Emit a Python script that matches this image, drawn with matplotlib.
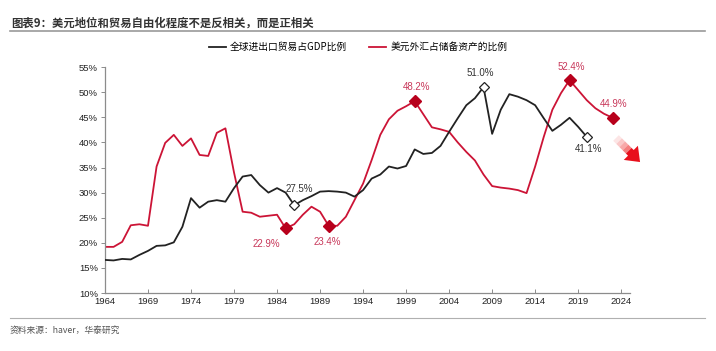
import matplotlib
matplotlib.use("Agg")
import matplotlib.pyplot as plt
from matplotlib.lines import Line2D
from matplotlib.patches import FancyArrow
import numpy as np

plt.rcParams['font.family'] = ['Liberation Sans', 'Noto Sans CJK SC', 'DejaVu Sans']

years = list(range(1964, 2024))

trade_gdp = [16.6, 16.5, 16.8, 16.7, 17.6, 18.4, 19.4, 19.5, 20.1, 23.2, 28.9, 27.0, 28.2, 28.5, 28.2,
             30.9, 33.2, 33.5, 31.5, 30.0, 30.9, 30.0, 27.5, 28.5, 29.3, 30.2, 30.3, 30.2, 30.0, 29.2,
             30.5, 32.8, 33.6, 35.2, 34.8, 35.3, 38.6, 37.7, 37.9, 39.3, 42.1, 44.8, 47.4, 48.8, 51.0,
             41.7, 46.5, 49.6, 49.1, 48.4, 47.4, 44.8, 42.3, 43.5, 44.9, 43.1, 41.1]
usd_reserve = [19.2, 19.2, 20.2, 23.5, 23.7, 23.4, 35.2, 39.9, 41.5, 39.3, 40.8, 37.5, 37.3, 41.9, 42.8,
               34.0, 26.2, 26.0, 25.2, 25.4, 25.6, 22.9, 23.7, 25.6, 27.2, 26.2, 23.4, 23.4, 25.2, 28.5,
               31.8, 36.5, 41.5, 44.6, 46.3, 47.2, 48.2, 45.6, 43.0, 42.6, 42.1, 40.0, 38.1, 36.4, 33.6,
               31.3, 31.0, 30.8, 30.5, 29.9, 35.2, 41.1, 46.5, 49.8, 52.4, 50.4, 48.4, 46.8, 45.7, 44.9]
trade_years = years[:len(trade_gdp)]
reserve_years = years[:len(usd_reserve)]

series_names = ['全球进出口贸易占GDP比例', '美元外汇占储备资产的比例']
title = '图表9：美元地位和贸易自由化程度不是反相关，而是正相关'
source = '资料来源：haver，华泰研究'

xticks = list(range(1964, 2025, 5))
yticks = list(range(10, 56, 5))

# highlighted points: (year, value, label offset in points)
trade_marks = [(1986, 27.5, (4, 12)), (2008, 51.0, (-2, 10)), (2020, 41.1, (1, -9))]
reserve_marks = [(1985, 22.9, (-14, -11)), (1990, 23.4, (-1, -12)), (2000, 48.2, (1, 10)),
                 (2018, 52.4, (1, 9.5)), (2023, 44.9, (1, 10))]

BLACK = '#222222'
RED = '#cc1436'
MRED = '#b8001c'
LRED = '#c8385a'

fig = plt.figure(figsize=(7.16, 3.51), dpi=100)
fig.patch.set_facecolor('white')
ax = fig.add_axes([0.1466, 0.165, 0.733, 0.644])

ax.plot(trade_years, trade_gdp, color=BLACK, lw=1.3, zorder=3)
ax.plot(reserve_years, usd_reserve, color=RED, lw=1.3, zorder=2)

for yr, v, off in trade_marks:
    ax.plot([yr], [v], marker='D', ms=5.5, mfc='white', mec=BLACK, mew=0.9, zorder=5)
    ax.annotate(f'{v:.1f}%', (yr, v), xytext=off, textcoords='offset points',
                ha='center', va='center', fontsize=7, color='#333333', zorder=6)
for yr, v, off in reserve_marks:
    ax.plot([yr], [v], marker='D', ms=6, mfc=MRED, mec=MRED, zorder=5)
    ax.annotate(f'{v:.1f}%', (yr, v), xytext=off, textcoords='offset points',
                ha='center', va='center', fontsize=7, color=LRED, zorder=6)

ax.set_xlim(1964, 2025)
ax.set_ylim(10, 55)
ax.set_xticks(xticks)
ax.set_xticklabels([str(x) for x in xticks], fontsize=6.8, color='#222222')
ax.set_yticks(yticks)
ax.set_yticklabels([f'{y}%' for y in yticks], fontsize=6.8, color='#222222')
for s in ['top', 'right']:
    ax.spines[s].set_visible(False)
for s in ['left', 'bottom']:
    ax.spines[s].set_color('#8c8c8c')
    ax.spines[s].set_linewidth(0.9)
ax.tick_params(axis='y', direction='out', length=3, width=0.7, color='#8c8c8c', pad=2)
ax.tick_params(axis='x', direction='in', length=3, width=0.7, color='#8c8c8c', pad=3)

# decorative down-right arrow with faded tail (inch coordinates, y up)
tr = fig.dpi_scale_trans
ux, uy = 0.7071, -0.7071
x0, y0 = 6.16, 3.51 - 1.38
for k, a in enumerate([0.12, 0.25, 0.4, 0.6]):
    seg = FancyArrow(x0 + ux * 0.045 * k, y0 + uy * 0.045 * k, ux * 0.045, uy * 0.045,
                     width=0.08, head_width=0.0, head_length=0.0, length_includes_head=True,
                     transform=tr, color='#ee2a2a', lw=0, alpha=a)
    fig.patches.append(seg)
head = FancyArrow(x0 + ux * 0.18, y0 + uy * 0.18, ux * 0.16, uy * 0.16, width=0.08,
                  head_width=0.2, head_length=0.13, length_includes_head=True,
                  transform=tr, color='#e8101c', lw=0)
fig.patches.append(head)

# title and rules
fig.text(0.016, 0.935, title, fontsize=8.2, fontweight='bold', color='#333333',
         family=['Noto Sans CJK SC', 'DejaVu Sans'], va='center', ha='left')
fig.add_artist(Line2D([0.014, 0.985], [0.912, 0.912], color='#9a9a9a', lw=1.2, transform=fig.transFigure))
fig.add_artist(Line2D([0.014, 0.985], [0.094, 0.094], color='#b0b0b0', lw=0.8, transform=fig.transFigure))
fig.text(0.014, 0.058, source, fontsize=6.3, color='#555555',
         family=['Noto Sans CJK SC', 'DejaVu Sans'], va='center', ha='left')

# legend
handles = [Line2D([], [], color=BLACK, lw=1.3), Line2D([], [], color=RED, lw=1.3)]
leg = fig.legend(handles, series_names, loc='center', bbox_to_anchor=(0.50, 0.866), ncol=2,
                 frameon=False, handlelength=1.8, handletextpad=0.4, columnspacing=2.2,
                 prop={'family': ['Noto Sans CJK SC', 'DejaVu Sans'], 'size': 7})

fig.savefig('out.png', dpi=100, facecolor='white')
